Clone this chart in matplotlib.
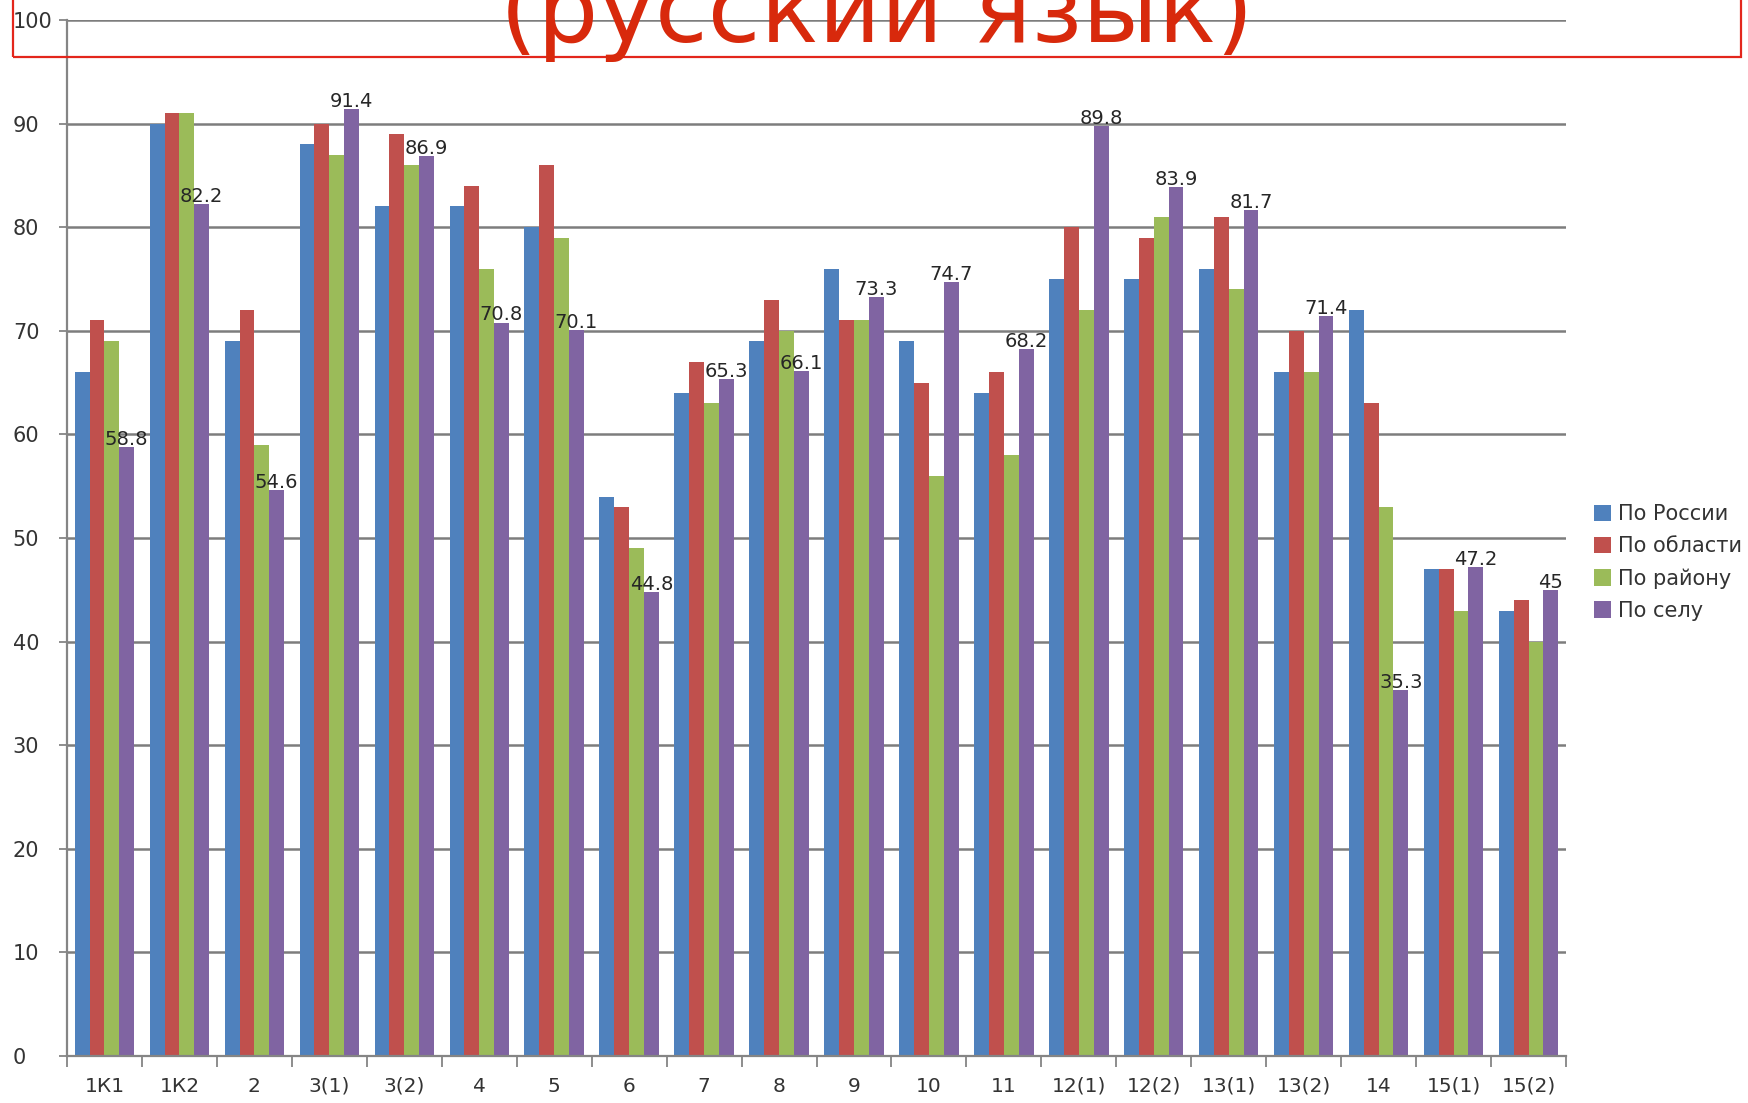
import numpy as np
import matplotlib
matplotlib.use('Agg')
import matplotlib.pyplot as plt
from matplotlib.patches import Rectangle

plt.rcParams['font.family'] = ['DejaVu Sans']

categories = ['1К1', '1К2', '2', '3(1)', '3(2)', '4', '5', '6', '7', '8',
              '9', '10', '11', '12(1)', '12(2)', '13(1)', '13(2)', '14', '15(1)', '15(2)']
po_rossii = [66, 90, 69, 88, 82, 82, 80, 54, 64, 69, 76, 69, 64, 75, 75, 76, 66, 72, 47, 43]
po_oblasti = [71, 91, 72, 90, 89, 84, 86, 53, 67, 73, 71, 65, 66, 80, 79, 81, 70, 63, 47, 44]
po_rayonu = [69, 91, 59, 87, 86, 76, 79, 49, 63, 70, 71, 56, 58, 72, 81, 74, 66, 53, 43, 40]
po_selu = [58.8, 82.2, 54.6, 91.4, 86.9, 70.8, 70.1, 44.8, 65.3, 66.1,
           73.3, 74.7, 68.2, 89.8, 83.9, 81.7, 71.4, 35.3, 47.2, 45]
series_names = ['По России', 'По области', 'По району', 'По селу']
colors = ['#4f81bd', '#c0504d', '#9bbb59', '#8064a2']

W, H = 1748, 1103
fig = plt.figure(figsize=(W / 100, H / 100), dpi=100)
ax = fig.add_axes([67 / W, 1 - 1056 / H, (1566 - 67) / W, (1056 - 20) / H])

x = np.arange(len(categories))
bw = 0.198
series = [po_rossii, po_oblasti, po_rayonu, po_selu]
for i, (vals, name, c) in enumerate(zip(series, series_names, colors)):
    ax.bar(x + (i - 1.5) * bw, vals, bw, color=c, label=name, linewidth=0, zorder=2)

# labels on the last series
for xi, v in zip(x, po_selu):
    ax.annotate('{:g}'.format(v), (xi + 1.5 * bw, v), xytext=(0, 1.5),
                textcoords='offset points', ha='center', va='baseline',
                fontsize=14, color='#262626', zorder=3)

ax.set_xlim(-0.5, len(categories) - 0.5)
ax.set_ylim(0, 100)
ax.set_yticks(np.arange(0, 101, 10))
ax.yaxis.grid(True, color='#7d7d7d', linewidth=1.8, zorder=0)
ax.set_axisbelow(True)

ax.set_xticks(x)
ax.set_xticklabels(categories)
ax.set_xticks(np.arange(-0.5, len(categories)), minor=True)
ax.tick_params(axis='x', which='major', length=0, pad=15, labelsize=14.5, labelcolor='#333333')
ax.tick_params(axis='x', which='minor', length=8, width=1.3, color='#858585')
ax.tick_params(axis='y', length=6, width=1.3, color='#858585', pad=33,
               labelsize=15, labelcolor='#333333')
for lbl in ax.get_yticklabels():
    lbl.set_horizontalalignment('left')

for s in ['top', 'right']:
    ax.spines[s].set_visible(False)
for s in ['left', 'bottom']:
    ax.spines[s].set_color('#858585')
    ax.spines[s].set_linewidth(1.6)

ax.legend(loc='upper left', bbox_to_anchor=(1594 / W, 1 - 504 / H),
          bbox_transform=fig.transFigure, frameon=False, fontsize=15,
          handlelength=0.82, handleheight=0.82, handletextpad=0.34,
          labelspacing=0.58, borderpad=0, borderaxespad=0, labelcolor='#333333')

# title box (cut at top in the original)
fig.patches.append(Rectangle((13 / W, 1 - 57 / H), (1741 - 13) / W, 0.2,
                             transform=fig.transFigure, fill=False,
                             edgecolor='#e3261c', linewidth=1.6, zorder=5))
fig.text(877 / W, 1 - 42 / H, '(русский язык)', ha='center', va='baseline',
         fontsize=69, color='#d8290c', zorder=6)

fig.savefig('out.png', dpi=100)
